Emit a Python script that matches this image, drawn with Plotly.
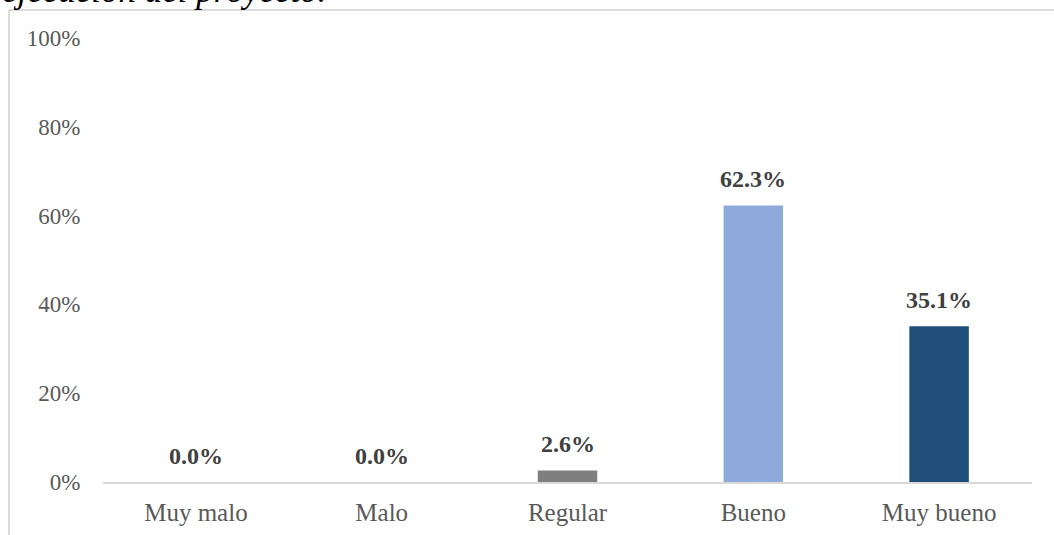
import plotly.graph_objects as go

categories = ["Muy malo", "Malo", "Regular", "Bueno", "Muy bueno"]
values = [0.0, 0.0, 2.6, 62.3, 35.1]
colors = ["#7f7f7f", "#7f7f7f", "#7f7f7f", "#8eaadb", "#1f4e79"]
tick_vals = [0, 20, 40, 60, 80, 100]
tick_text = ["0%", "20%", "40%", "60%", "80%", "100%"]
title_text = "ejecución del proyecto."

W, H = 1054, 535
L, R, T, B = 103, 22, 38, 53
pw, ph = W - L - R, H - T - B

fig = go.Figure()
fig.add_trace(go.Bar(
    x=categories, y=values, marker=dict(color=colors, line=dict(width=0)),
    hoverinfo="skip", showlegend=False,
))

for c, v in zip(categories, values):
    fig.add_annotation(
        x=c, y=v, xref="x", yref="y", text=f"<b>{v:.1f}%</b>",
        showarrow=False, yanchor="middle", yshift=26,
        font=dict(family="Liberation Serif", size=24, color="#404040"),
    )

# Partially cropped title at top
fig.add_annotation(
    x=(0 - L) / pw, y=(H - 4 - B) / ph, xref="paper", yref="paper",
    xanchor="left", yanchor="bottom", text=f"<i>{title_text}</i>",
    showarrow=False, yshift=-8,
    font=dict(family="Liberation Serif", size=35, color="#000000"),
)

# chart area border (left and top)
bx = (9 - L) / pw
by = (H - 10 - B) / ph
fig.add_shape(type="line", xref="paper", yref="paper", x0=bx, x1=bx, y0=by, y1=-0.5,
              line=dict(color="#d0d0d0", width=1.5))
fig.add_shape(type="line", xref="paper", yref="paper", x0=bx, x1=1.5, y0=by, y1=by,
              line=dict(color="#d0d0d0", width=1.5))

fig.update_layout(
    width=W, height=H,
    margin=dict(l=L, r=R, t=T, b=B, autoexpand=False),
    paper_bgcolor="white", plot_bgcolor="white",
    bargap=0.68,
    font=dict(family="Liberation Serif", size=18, color="#595959"),
    xaxis=dict(showline=True, linecolor="#d9d9d9", linewidth=1.5, automargin=False,
               ticks="outside", ticklen=7, tickcolor="rgba(0,0,0,0)",
               tickfont=dict(size=25, color="#595959"), showgrid=False),
    yaxis=dict(range=[0, 100], tickvals=tick_vals, ticktext=tick_text, showgrid=False,
               zeroline=False, showline=False, ticks="outside", ticklen=17,
               automargin=False, tickcolor="rgba(0,0,0,0)",
               tickfont=dict(size=23, color="#595959")),
)

fig.write_html("out.html")
